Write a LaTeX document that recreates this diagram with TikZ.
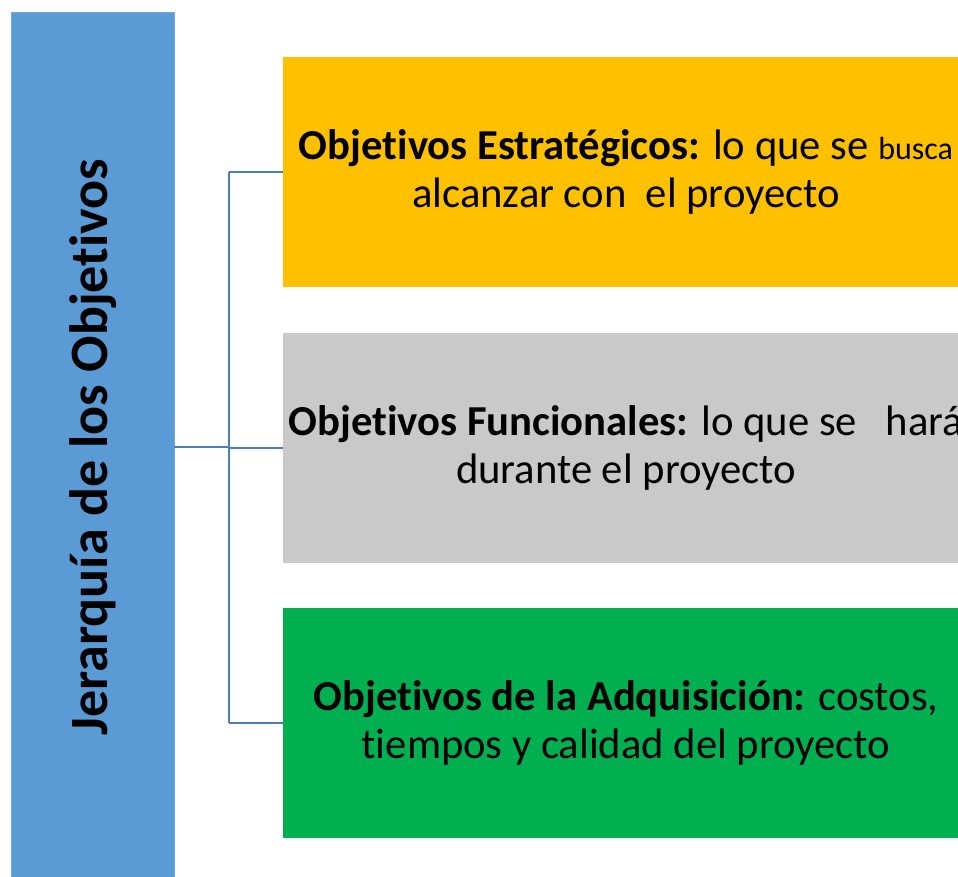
\documentclass[tikz,border=0pt]{standalone}
\usepackage{fontspec}
\setmainfont{Carlito}[RawFeature=-liga]
\usetikzlibrary{positioning}
\definecolor{barblue}{HTML}{5B9BD5}
\definecolor{estrorange}{HTML}{FFC000}
\definecolor{funcgray}{HTML}{C9C9C9}
\definecolor{adqgreen}{HTML}{00B050}
\definecolor{linkblue}{HTML}{4A7EBB}
\tikzset{
  objbox/.style={minimum width=514.5pt, minimum height=172.5pt, inner sep=0pt,
    align=center, font=\fontsize{32}{36}\selectfont},
  link/.style={draw=linkblue, line width=1.5pt}
}

\begin{document}
\begin{tikzpicture}[x=0.75pt,y=-0.75pt]
  %%%%% START %%%%%
  \useasboundingbox (0,0) rectangle (958,877);
  \clip (0,0) rectangle (958,877);

  \node[fill=barblue, draw=barblue!85!white, minimum width=122.25pt,
    minimum height=648.75pt, inner sep=0pt] (bar) at (92.5,444.5) {};
  \node[rotate=90, font=\bfseries\fontsize{40.5}{44}\selectfont] (jertext) at (93,447)
    {Jerarquía de los Objetivos};

  \node[objbox, fill=estrorange] (estr) at (626,172)
    {\textbf{Objetivos Estratégicos:} lo que se {\fontsize{24}{28}\selectfont busca}\\
     alcanzar con\ \ el proyecto};
  \node[objbox, fill=funcgray, below=33.75pt of estr] (func)
    {\textbf{Objetivos Funcionales:} lo que se\ \ \ hará\\
     durante el proyecto};
  \node[objbox, fill=adqgreen, below=33.75pt of func] (adq)
    {\textbf{Objetivos de la Adquisición:} costos,\\
     tiempos y calidad del proyecto};

  \coordinate (jn) at (229,447);
  \draw[link] (bar.east |- jn) -- (jn);
  \draw[link] (jn |- estr.west) -- (jn |- adq.west);
  \draw[link] (jn |- estr.west) -- (estr.west);
  \draw[link] (jn |- func.west) -- (func.west);
  \draw[link] (jn |- adq.west) -- (adq.west);
  %%%%% END %%%%%
\end{tikzpicture}
\end{document}
